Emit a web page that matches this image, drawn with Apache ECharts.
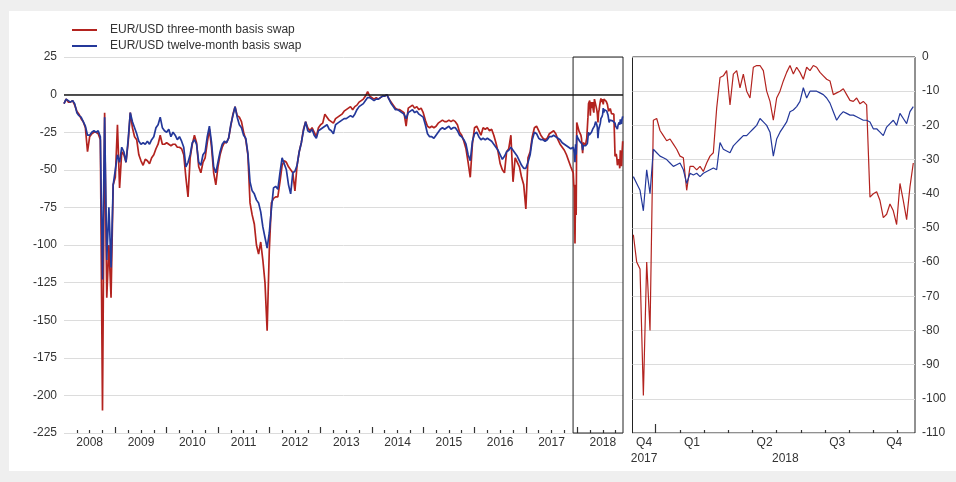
<!DOCTYPE html>
<html>
<head>
<meta charset="utf-8">
<script src="https://cdn.jsdelivr.net/npm/echarts@6/dist/echarts.min.js"></script>
<style>
  html, body { margin: 0; padding: 0; background: #efefef; }
  #card { position: absolute; left: 9px; top: 11px; width: 947px; height: 460px; background: #ffffff; }
  #chart { position: absolute; left: 0; top: 0; width: 956px; height: 482px; }
</style>
</head>
<body>
<div id="card"></div>
<div id="chart"></div>
<script>
// Series names
const seriesNames = ['EUR/USD three-month basis swap', 'EUR/USD twelve-month basis swap'];

// Long history, semi-monthly readings from January 2008 (basis points)
const histStart = 2008;
const histStep = 1 / 24;
const hist3m = [
  -6, -3, -5, -5, -4, -7, -11, -13, -16, -18, -22, -38, -28, -26, -25, -25, -26, -30, -210, -12, -135, -100, -135, -60,
  -55, -20, -62, -38, -40, -45, -32, -12, -22, -28, -30, -40, -44, -47, -43, -44, -46, -42, -40, -36, -33, -27, -33, -33,
  -32, -33, -34, -33, -33, -35, -35, -36, -40, -55, -68, -42, -33, -27, -32, -48, -52, -45, -42, -32, -23, -35, -52, -60,
  -48, -40, -35, -32, -32, -29, -21, -13, -8, -14, -15, -18, -25, -30, -40, -72, -80, -86, -100, -106, -98, -110, -125, -157,
  -104, -72, -69, -68, -68, -58, -47, -44, -45, -48, -50, -52, -64, -47, -38, -32, -23, -18, -22, -24, -22, -25, -28, -22,
  -20, -19, -13, -15, -17, -18, -19, -16, -15, -14, -13, -11, -10, -9, -8, -10, -8, -7, -5, -4, -3, -1, 2, -1,
  -2, -3, -2, -3, -2, -1, -1, 0, -3, -5, -7, -9, -10, -10, -11, -12, -21, -9, -8, -7, -9, -8, -10, -9,
  -12, -17, -21, -22, -21, -22, -21, -19, -18, -17, -18, -18, -17, -18, -17, -18, -20, -25, -27, -31, -36, -45, -55, -33,
  -22, -21, -24, -27, -22, -23, -22, -24, -23, -27, -32, -38, -46, -50, -52, -38, -36, -27, -58, -42, -45, -48, -55, -60,
  -76, -42, -38, -28, -22, -21, -24, -27, -29, -30, -29, -26, -25, -24, -26, -30, -33, -35, -37, -40, -44, -48
];
const hist12m = [
  -6, -3, -4, -5, -4, -6, -12, -14, -15, -18, -21, -27, -27, -25, -24, -25, -24, -28, -123, -15, -110, -75, -115, -60,
  -50, -40, -45, -35, -38, -45, -30, -12, -18, -22, -26, -31, -33, -32, -33, -31, -33, -30, -28, -22, -20, -15, -22, -24,
  -25, -23, -28, -25, -27, -30, -28, -31, -35, -48, -45, -40, -32, -30, -33, -45, -47, -40, -38, -28, -21, -32, -48, -52,
  -45, -38, -33, -31, -32, -29, -20, -14, -8, -15, -20, -22, -27, -29, -39, -58, -64, -66, -70, -72, -78, -88, -95, -102,
  -92, -76, -62, -61, -63, -52, -42, -46, -50, -60, -66, -52, -51, -47, -38, -32, -24, -18, -24, -25, -23, -27, -29, -24,
  -23, -22, -21, -20, -23, -24, -26, -20, -19, -18, -17, -16, -16, -15, -14, -15, -13, -10, -8, -7, -6, -4, -2, -2,
  -3, -4, -3, -3, -2, -1, -1, 0, -3, -6, -8, -10, -10, -11, -12, -13, -16, -12, -11, -10, -12, -11, -13, -14,
  -15, -20, -26, -28, -28, -29, -27, -25, -23, -22, -23, -22, -21, -23, -22, -22, -24, -27, -28, -30, -33, -40, -44, -31,
  -26, -25, -28, -30, -29, -30, -29, -30, -31, -33, -35, -37, -40, -43, -41, -38, -37, -35, -37, -39, -41, -44, -47, -49,
  -49, -45, -40, -30, -25, -26, -29, -30, -30, -31, -30, -28, -28, -27, -28, -29, -30, -32, -33, -34, -35, -36
];

// Recent period, readings roughly every four days from early December 2017
const zoomStart = 2017.92298;
const zoomStep = 0.011478;
const zoom3m = [
  -52, -60, -62, -99, -60, -80, -18.5, -18, -21.5,
  -23, -24.5, -24, -25.5, -27, -29, -29.5, -39, -32, -32,
  -33, -32, -33.5, -31, -29, -28, -15, -6, -5.5, -4,
  -14, -5, -4, -9, -5, -10, -12, -3, -2.5, -2.5,
  -4, -10, -13, -18.5, -12, -10, -7, -4.5, -2.5, -5,
  -3, -4.5, -6.5, -3, -4, -2.5, -3, -4.5, -5.5, -6.5,
  -7, -11, -10.5, -10, -9.3, -11, -12.7, -13, -12, -13.7,
  -13, -14, -41, -40, -39.4, -42, -47, -46, -43, -45,
  -49, -37, -42, -47.6, -38, -31
];
const zoom12m = [
  -35, -37, -39, -45, -33, -40, -27, -28, -29,
  -29.5, -30, -31, -32, -31.5, -31, -33, -37, -34, -34.5,
  -34, -35, -34, -33.5, -33, -32.5, -33, -25, -27, -27.5,
  -28, -26, -25, -24, -23, -23, -22, -21, -20, -18,
  -19, -20, -22, -29, -24, -22, -20.5, -19, -16, -15.5,
  -14.5, -13, -9, -12, -10, -10, -10, -10.5, -11, -12,
  -13.5, -16, -18.5, -17, -16, -16.5, -17, -17, -17.5, -18,
  -18.5, -18.5, -19, -21, -21, -22, -23, -20.5, -19.5, -18.5,
  -20, -16.5, -18, -19.5, -16, -14.5
];

// Axis windows (decimal years)
const fullMin = 2008, fullMax = 2018.893;
const zoomMin = 2017.92, zoomMax = 2018.893;

// Tick labels
const yearLabels = ['2008', '2009', '2010', '2011', '2012', '2013', '2014', '2015', '2016', '2017', '2018'];
const quarterLabels = ['Q4', 'Q1', 'Q2', 'Q3', 'Q4'];
const yearRowLabels = ['2017', '2018'];

// ---- derived series ----
const histDates = hist3m.map((_, i) => histStart + i * histStep);
const zoomDates = zoom3m.map((_, i) => zoomStart + i * zoomStep);
const pairs = (dates, vals) => dates.map((t, i) => [t, vals[i]]);
const full3m = pairs(histDates, hist3m).concat(pairs(zoomDates, zoom3m));
const full12m = pairs(histDates, hist12m).concat(pairs(zoomDates, zoom12m));
const recent3m = pairs(zoomDates, zoom3m);
const recent12m = pairs(zoomDates, zoom12m);

// ---- tick and label positions ----
const yearTicks = [];
const quarterTicks = [];
for (let y = 2008; y <= 2018; y++) {
  if (y > 2008) yearTicks.push(y);
  [0.25, 0.5, 0.75].forEach(q => { if (y + q < fullMax) quarterTicks.push(y + q); });
}
const yearLabelPos = yearLabels.map(s => Number(s) + 0.5);
const monthTicks = [];
for (let m = 1; m <= 10; m++) monthTicks.push(2018 + m / 12);
// quarter labels sit in the middle of the visible part of each quarter
const quarterBounds = [[zoomMin, 2018], [2018, 2018.25], [2018.25, 2018.5], [2018.5, 2018.75], [2018.75, zoomMax]];
const quarterLabelPos = quarterBounds.map(b => (b[0] + b[1]) / 2);
const yearRowPos = [(zoomMin + 2018) / 2, (2018 + zoomMax) / 2];

const lookup = (positions, labels) => v => {
  const i = positions.findIndex(p => Math.abs(p - v) < 1e-6);
  return i >= 0 ? labels[i] : '';
};

const RED = '#b3231f';
const BLUE = '#24389a';
const TXT = '#333333';
const FONT = "'Liberation Sans', Arial, sans-serif";
const GRIDLINE = '#dcdcdc';
const tickStyle = { color: '#333333', width: 1.2 };
const noLine = { show: false, onZero: false };

const chart = echarts.init(document.getElementById('chart'), null, { renderer: 'canvas' });

chart.setOption({
  animation: false,
  backgroundColor: 'transparent',
  textStyle: { fontFamily: FONT },
  legend: {
    data: seriesNames.map(n => ({ name: n, icon: 'rect' })),
    orient: 'vertical',
    left: 67,
    top: 19,
    itemWidth: 25,
    itemHeight: 2,
    itemGap: 4,
    textStyle: { fontSize: 12, color: TXT, fontFamily: FONT, padding: [0, 0, 0, 8] }
  },
  grid: [
    { left: 64, top: 57, width: 559, height: 376 },
    { left: 632.5, top: 57, width: 282.5, height: 376, show: true, borderColor: '#222222', borderWidth: 1, backgroundColor: 'transparent' }
  ],
  xAxis: [
    {
      gridIndex: 0, type: 'value', min: fullMin, max: fullMax, position: 'bottom',
      axisLine: noLine, splitLine: { show: false },
      axisTick: { show: true, inside: true, length: 6, customValues: yearTicks, lineStyle: tickStyle },
      axisLabel: { customValues: yearLabelPos, formatter: lookup(yearLabelPos, yearLabels), margin: 4, fontSize: 12, color: TXT, fontFamily: FONT }
    },
    {
      gridIndex: 0, type: 'value', min: fullMin, max: fullMax, position: 'bottom',
      axisLine: noLine, splitLine: { show: false }, axisLabel: { show: false },
      axisTick: { show: true, inside: true, length: 3, customValues: quarterTicks, lineStyle: tickStyle }
    },
    {
      gridIndex: 1, type: 'value', min: zoomMin, max: zoomMax, position: 'bottom',
      axisLine: noLine, splitLine: { show: false },
      axisTick: { show: true, inside: true, length: 3, customValues: monthTicks, lineStyle: tickStyle },
      axisLabel: { customValues: quarterLabelPos, formatter: lookup(quarterLabelPos, quarterLabels), margin: 4, fontSize: 12, color: TXT, fontFamily: FONT }
    },
    {
      gridIndex: 1, type: 'value', min: zoomMin, max: zoomMax, position: 'bottom',
      axisLine: noLine, splitLine: { show: false },
      axisTick: { show: true, inside: true, length: 9, customValues: [2018], lineStyle: tickStyle },
      axisLabel: { customValues: yearRowPos, formatter: lookup(yearRowPos, yearRowLabels), margin: 20, fontSize: 12, color: TXT, fontFamily: FONT }
    }
  ],
  yAxis: [
    {
      gridIndex: 0, type: 'value', min: -225, max: 25, interval: 25, position: 'left',
      axisLine: noLine, axisTick: { show: false },
      splitLine: { lineStyle: { color: GRIDLINE, width: 1 } },
      axisLabel: { margin: 7, fontSize: 12, color: TXT, fontFamily: FONT }
    },
    {
      gridIndex: 1, type: 'value', min: -110, max: 0, interval: 10, position: 'right',
      axisLine: noLine, axisTick: { show: false },
      splitLine: { lineStyle: { color: GRIDLINE, width: 1 } },
      axisLabel: { margin: 7, fontSize: 12, color: TXT, fontFamily: FONT }
    }
  ],
  series: [
    {
      name: seriesNames[0], type: 'line', xAxisIndex: 0, yAxisIndex: 0,
      data: full3m, symbol: 'none', showSymbol: false,
      lineStyle: { color: RED, width: 1.7 }, itemStyle: { color: RED },
      markLine: {
        silent: true, symbol: 'none', label: { show: false },
        lineStyle: { color: '#1a1a1a', width: 1.5, type: 'solid' },
        data: [{ yAxis: 0 }]
      }
    },
    {
      name: seriesNames[1], type: 'line', xAxisIndex: 0, yAxisIndex: 0,
      data: full12m, symbol: 'none', showSymbol: false,
      lineStyle: { color: BLUE, width: 1.7 }, itemStyle: { color: BLUE },
      markArea: {
        silent: true,
        itemStyle: { color: 'rgba(0,0,0,0)', borderColor: '#222222', borderWidth: 1 },
        data: [[{ xAxis: zoomMin, yAxis: 25 }, { xAxis: zoomMax, yAxis: -225 }]]
      }
    },
    {
      name: seriesNames[0], type: 'line', xAxisIndex: 2, yAxisIndex: 1,
      data: recent3m, symbol: 'none', showSymbol: false,
      lineStyle: { color: RED, width: 1.2 }, itemStyle: { color: RED }
    },
    {
      name: seriesNames[1], type: 'line', xAxisIndex: 2, yAxisIndex: 1,
      data: recent12m, symbol: 'none', showSymbol: false,
      lineStyle: { color: BLUE, width: 1.2 }, itemStyle: { color: BLUE }
    }
  ]
});
</script>
</body>
</html>
